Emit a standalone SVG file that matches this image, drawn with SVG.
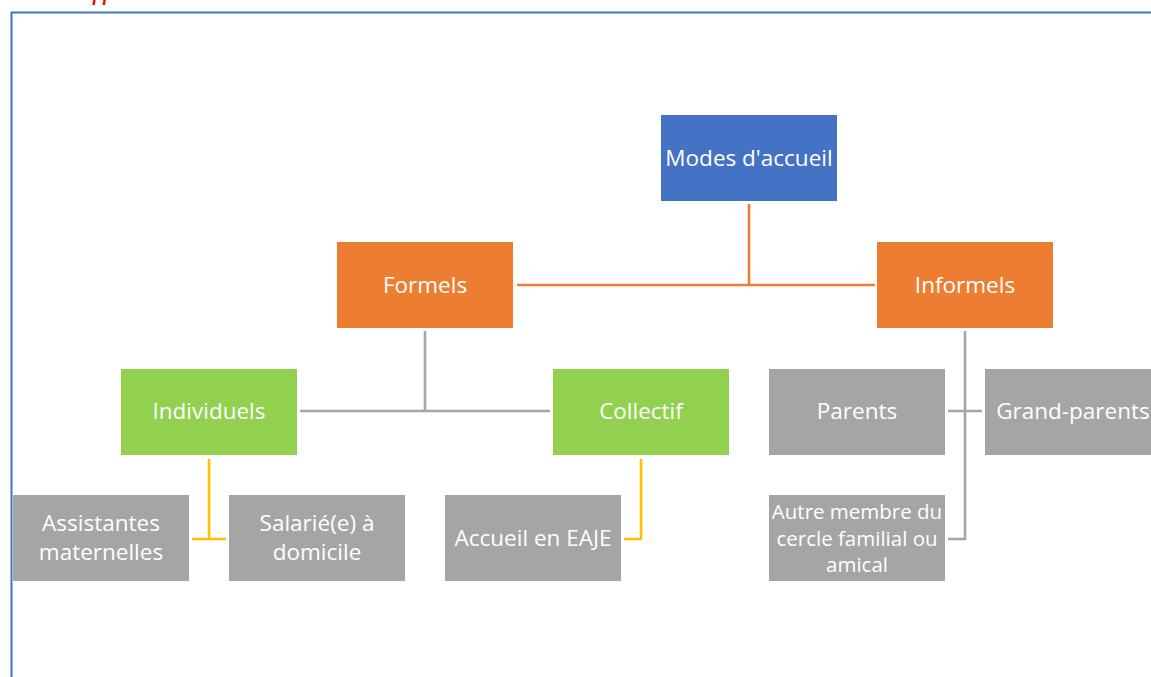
<svg xmlns="http://www.w3.org/2000/svg" width="1151" height="677" viewBox="0 0 1151 677">
<style>
.node text{font-family:"Open Sans","Noto Sans","Liberation Sans",sans-serif;font-size:22.5px;fill:#ffffff;text-anchor:middle}
.node text.s{font-size:20.5px}
.blue{fill:#4472C4}
.orange{fill:#ED7D31}
.green{fill:#92D050}
.gray{fill:#A5A5A5}
.c{fill:none;stroke-width:2.6;stroke-linecap:butt}
.co{stroke:#ED7D31}
.cg{stroke:#A5A5A5}
.cy{stroke:#FFC000}
</style>
<rect width="1151" height="677" fill="#ffffff"/>
<path d="M11.5 677 V12.5 H1151" fill="none" stroke="#4472C4" stroke-width="2"/>
<text x="92" y="-1" font-family="'Liberation Serif',serif" font-style="italic" font-size="30" letter-spacing="2" fill="#FF0000">ff</text>
<g id="connectors">
<path class="c co" d="M749 204 V285 M517 285 H875"/>
<path class="c cg" d="M425 331 V411 M300 411 H550"/>
<path class="c cg" d="M965 331 V539 H948 M948 411 H982"/>
<path class="c cy" d="M209 459 V539 M192 539 H226"/>
<path class="c cy" d="M641 459 V539 H624"/>
</g>
<g id="n-modes" class="node"><rect class="blue" x="661" y="115" width="176" height="86"/><text x="749" y="166">Modes d'accueil</text></g>
<g id="n-formels" class="node"><rect class="orange" x="337" y="242" width="176" height="86"/><text x="425" y="293">Formels</text></g>
<g id="n-informels" class="node"><rect class="orange" x="877" y="242" width="176" height="86"/><text x="965" y="293">Informels</text></g>
<g id="n-individuels" class="node"><rect class="green" x="121" y="369" width="176" height="86"/><text x="209" y="419">Individuels</text></g>
<g id="n-collectif" class="node"><rect class="green" x="553" y="369" width="176" height="86"/><text x="641" y="419">Collectif</text></g>
<g id="n-parents" class="node"><rect class="gray" x="769" y="369" width="176" height="86"/><text x="857" y="419">Parents</text></g>
<g id="n-grandparents" class="node"><rect class="gray" x="985" y="369" width="176" height="86"/><text x="1073" y="419">Grand-parents</text></g>
<g id="n-assistantes" class="node"><rect class="gray" x="13" y="495" width="176" height="86"/><text x="101" y="531">Assistantes</text><text x="101" y="560">maternelles</text></g>
<g id="n-salarie" class="node"><rect class="gray" x="229" y="495" width="176" height="86"/><text x="317" y="531">Salarié(e) à</text><text x="317" y="560">domicile</text></g>
<g id="n-eaje" class="node"><rect class="gray" x="445" y="495" width="176" height="86"/><text x="533" y="546">Accueil en EAJE</text></g>
<g id="n-autre" class="node"><rect class="gray" x="769" y="495" width="176" height="86"/><text class="s" x="857" y="519">Autre membre du</text><text class="s" x="857" y="546">cercle familial ou</text><text class="s" x="857" y="572">amical</text></g>
</svg>
